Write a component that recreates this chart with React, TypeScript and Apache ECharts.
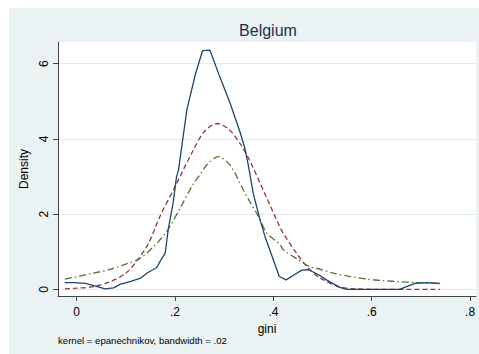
import React, { useEffect, useRef } from 'react';
import * as echarts from 'echarts';

const xTicks = [0, 0.2, 0.4, 0.6, 0.8];
const yTicks = [0, 2, 4, 6];

// Kernel density estimate (solid)
const kdeX = [-0.024, -0.005, 0.018, 0.04, 0.058, 0.075, 0.088, 0.11, 0.129, 0.144, 0.163, 0.169, 0.18, 0.186, 0.196, 0.203, 0.207, 0.224, 0.241, 0.256, 0.271, 0.291, 0.312, 0.332, 0.342, 0.349, 0.359, 0.373, 0.383, 0.4, 0.412, 0.426, 0.444, 0.458, 0.472, 0.49, 0.508, 0.535, 0.549, 0.6, 0.657, 0.672, 0.688, 0.712, 0.739];
const kdeY = [0.18, 0.18, 0.16, 0.08, 0.01, 0.04, 0.13, 0.21, 0.29, 0.44, 0.58, 0.73, 0.96, 1.58, 2.29, 2.99, 3.17, 4.77, 5.7, 6.35, 6.36, 5.65, 4.95, 4.19, 3.75, 3.3, 2.55, 1.84, 1.4, 0.78, 0.34, 0.25, 0.4, 0.51, 0.52, 0.4, 0.25, 0.05, 0.0, 0.0, 0.0, 0.08, 0.16, 0.18, 0.16];

// Normal density (dashed)
const normX = [-0.024, 0.0, 0.034, 0.068, 0.1, 0.122, 0.146, 0.169, 0.2, 0.237, 0.26, 0.285, 0.31, 0.332, 0.352, 0.373, 0.38, 0.413, 0.42, 0.447, 0.471, 0.495, 0.535, 0.57, 0.6, 0.739];
const normY = [0.01, 0.03, 0.07, 0.2, 0.43, 0.75, 1.22, 1.93, 2.73, 3.7, 4.2, 4.41, 4.25, 3.88, 3.42, 2.82, 2.62, 1.66, 1.49, 0.96, 0.56, 0.3, 0.06, 0.01, 0.0, 0.0];

// Second density (dash-dot)
const altX = [-0.024, 0.034, 0.068, 0.1, 0.129, 0.156, 0.169, 0.183, 0.21, 0.237, 0.251, 0.264, 0.288, 0.312, 0.339, 0.352, 0.373, 0.386, 0.413, 0.42, 0.447, 0.474, 0.488, 0.522, 0.556, 0.59, 0.624, 0.657, 0.691, 0.739];
const altY = [0.27, 0.43, 0.53, 0.67, 0.82, 1.13, 1.31, 1.53, 2.15, 2.8, 3.05, 3.3, 3.53, 3.3, 2.64, 2.33, 1.86, 1.5, 1.2, 1.05, 0.82, 0.6, 0.56, 0.43, 0.34, 0.27, 0.23, 0.2, 0.18, 0.15];

const FONT = 'Liberation Sans, Arial, Helvetica, sans-serif';

const pairs = (xs: number[], ys: number[]) => xs.map((x, i) => [x, ys[i]]);

export default function App() {
  const ref = useRef<HTMLDivElement>(null);
  useEffect(() => {
    document.body.style.margin = '0';
    document.body.style.background = '#ffffff';
    const chart = echarts.init(ref.current!, null, { renderer: 'svg' });
    chart.setOption({
      animation: false,
      backgroundColor: '#eaf2f3',
      textStyle: { fontFamily: FONT },
      graphic: [
        { type: 'text', x: 259, y: 22, style: { text: 'Belgium', align: 'center', verticalAlign: 'middle', fontSize: 16, fontFamily: FONT, fill: '#1e2d50' } },
        { type: 'text', x: 49, y: 332, style: { text: 'kernel = epanechnikov, bandwidth = .02', align: 'left', verticalAlign: 'middle', fontSize: 9.6, fontFamily: FONT, fill: '#000000' } },
      ],
      grid: { left: 49, right: 3, top: 34, bottom: 58, show: true, backgroundColor: '#ffffff', borderWidth: 0 },
      xAxis: {
        type: 'value', min: -0.038, max: 0.812,
        name: 'gini', nameLocation: 'middle', nameGap: 20,
        nameTextStyle: { fontSize: 12, color: '#000', fontFamily: FONT },
        axisLine: { show: true, onZero: false, lineStyle: { color: '#444', width: 1 } },
        axisTick: { show: true, length: 5, customValues: xTicks, lineStyle: { color: '#444' } },
        axisLabel: { customValues: xTicks, margin: 10, fontSize: 12, color: '#000', fontFamily: FONT,
          formatter: (v: number) => (Math.abs(v) < 1e-9 ? '0' : String(Math.round(v * 10) / 10).replace(/^0\./, '.')) },
        splitLine: { show: false },
      },
      yAxis: {
        type: 'value', min: -0.178, max: 6.577,
        name: 'Density', nameLocation: 'middle', nameGap: 21, nameRotate: 90,
        nameTextStyle: { fontSize: 12, color: '#000', fontFamily: FONT },
        axisLine: { show: true, onZero: false, lineStyle: { color: '#444', width: 1 } },
        axisTick: { show: true, length: 5, customValues: yTicks, lineStyle: { color: '#444' } },
        axisLabel: { customValues: yTicks, rotate: 90, margin: 8, fontSize: 12, color: '#000', fontFamily: FONT },
        splitLine: { show: true, lineStyle: { color: '#e3eced', width: 1 } },
      },
      series: [
        { type: 'line', data: pairs(kdeX, kdeY), symbol: 'none', lineStyle: { color: '#1a476f', width: 1.3, type: 'solid' }, z: 3 },
        { type: 'line', data: pairs(normX, normY), symbol: 'none', smooth: 0.3, lineStyle: { color: '#90353b', width: 1.3, type: [5, 3] }, z: 2 },
        { type: 'line', data: pairs(altX, altY), symbol: 'none', smooth: 0.3, lineStyle: { color: '#55752f', width: 1.3, type: [7, 3, 1.5, 3] }, z: 2 },
      ],
    });
    return () => chart.dispose();
  }, []);
  return <div ref={ref} style={{ position: 'absolute', left: 9, top: 8, width: 470, height: 346, background: '#eaf2f3' }} />;
}
